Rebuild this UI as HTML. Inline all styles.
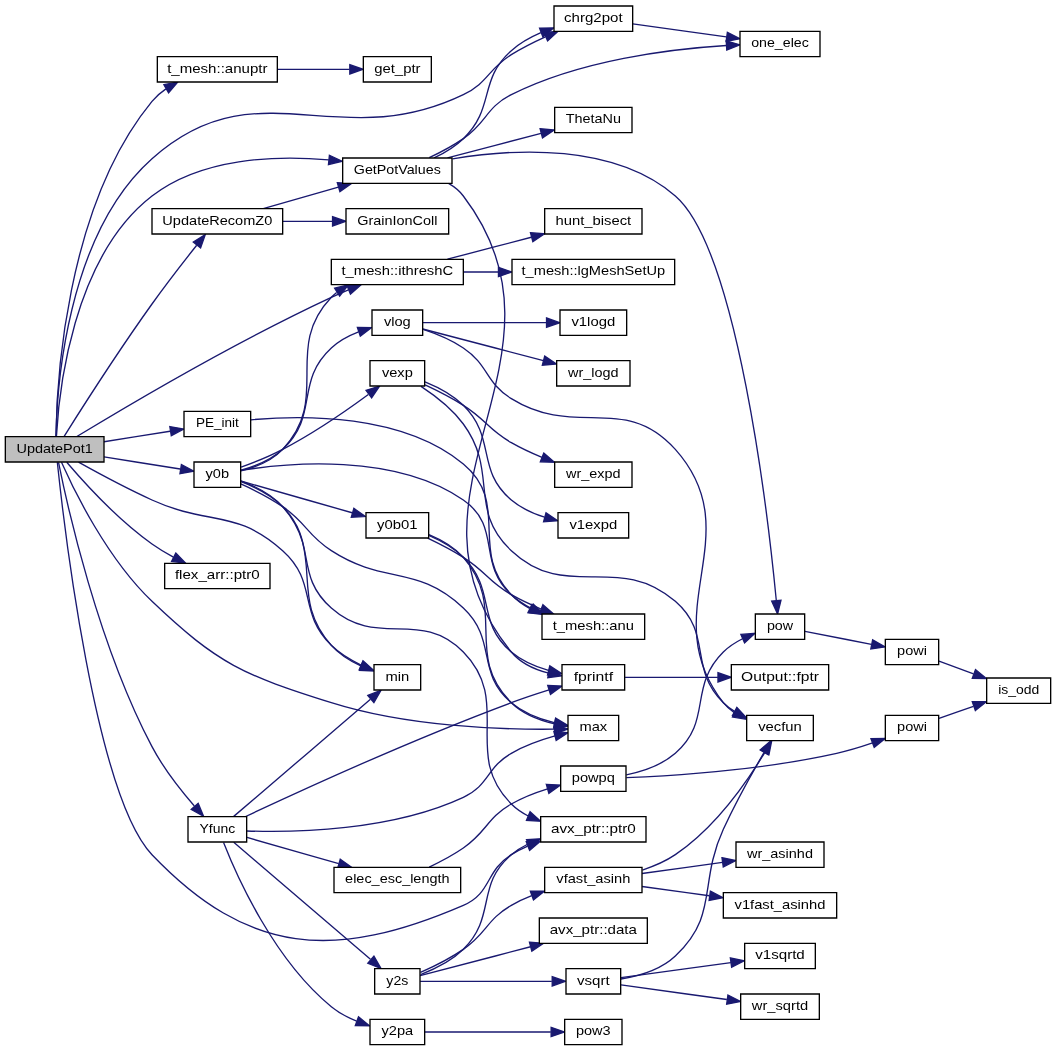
<!DOCTYPE html>
<html><head><meta charset="utf-8"><title>UpdatePot1</title>
<style>html,body{margin:0;padding:0;background:#fff;overflow:hidden}svg{display:block}text{font-family:"Liberation Sans",sans-serif;font-size:10px;text-rendering:auto}</style></head><body>
<svg width="1056" height="1051" viewBox="0 0 792 788.25">
<rect x="0" y="0" width="792" height="788.25" fill="#fff"/>
<g transform="translate(4 784)">
<g fill="none" stroke="#191970" stroke-width="1">
<path d="M314.56,-10C338.82,-10 380.48,-10 409.09,-10"/>
<path d="M599.7,-310.52C613.54,-307.79 633.2,-303.95 649.58,-300.76"/>
<path d="M331.59,-589.59C350.68,-594.59 374.22,-600.76 394.47,-606.07"/>
<path d="M343.69,-580C351.91,-580 361.08,-580 369.73,-580"/>
<path d="M204.12,-732C221.73,-732 241.72,-732 258.14,-732"/>
<path d="M461.67,-49.74C474.73,-51.87 491.45,-56.57 502.5,-67 535.34,-97.99 519.64,-120.98 538.5,-162 547.77,-182.17 560.16,-204.35 568.98,-219.52"/>
<path d="M461.77,-45.28C482.41,-42.44 515.29,-37.91 541.15,-34.35"/>
<path d="M461.77,-50.72C483.22,-53.68 517.91,-58.45 544.18,-62.07"/>
<path d="M470.59,-766.06C490.9,-763.27 518.42,-759.48 540.78,-756.4"/>
<path d="M335.41,-664.91C381.54,-672.52 456.54,-676.77 502.5,-637 549.2,-596.59 572,-397.73 578.21,-333.82"/>
<path d="M321.54,-665.56C329.25,-669.23 337.27,-674.01 343.5,-680 367.59,-703.15 354.48,-723.85 379.5,-746 385.88,-751.64 393.74,-756.04 401.67,-759.45"/>
<path d="M317.96,-665.73C326.29,-669.67 335.6,-674.58 343.5,-680 361.41,-692.27 360.1,-703.27 379.5,-713 431.33,-738.98 498.82,-747.27 540.77,-749.87"/>
<path d="M331.59,-665.59C353.03,-671.21 380.07,-678.29 401.78,-683.98"/>
<path d="M332.41,-646.43C336.67,-643.98 340.54,-640.88 343.5,-637 436.14,-515.43 282.72,-413.3 379.5,-295 386.42,-286.54 397.07,-281.79 407.52,-279.13"/>
<path d="M184.14,-469.14C222.57,-472.72 297.71,-473.84 343.5,-436 379.27,-406.44 347.11,-371.23 379.5,-338 383.44,-333.95 388.15,-330.57 393.18,-327.75"/>
<path d="M477.81,-131.49C486.35,-134.26 495.12,-138 502.5,-143 532.3,-163.19 556.55,-198.16 569.57,-219.57"/>
<path d="M477.54,-128.89C495.95,-131.43 518.56,-134.54 537.85,-137.2"/>
<path d="M477.54,-119.11C492.88,-116.99 511.14,-114.48 527.96,-112.17"/>
<path d="M176.68,-431.16C211.18,-436.73 291.79,-444.57 343.5,-409 372.65,-388.95 353.36,-361.85 379.5,-338 383.89,-334 389.02,-330.63 394.41,-327.8"/>
<path d="M176.74,-430.84C187.05,-433.42 199.81,-438.21 208,-447 244.71,-485.88 207.72,-522.18 244.5,-561 245.73,-562.32 247.06,-563.54 248.48,-564.69"/>
<path d="M176.7,-423.24C187,-419.52 199.77,-413.38 208,-404 240.71,-367.23 211.71,-336.7 244.5,-300 250.42,-293.28 258.65,-288.24 266.65,-284.56"/>
<path d="M176.51,-423.26C197.21,-417.33 233.53,-407.01 260.09,-399.44"/>
<path d="M176.8,-431.36C186.87,-434.11 199.37,-438.91 208,-447 235.66,-472.55 216.8,-497.5 244.5,-523 250.23,-528.34 257.63,-532.25 264.92,-535.07"/>
<path d="M176.83,-433.65C186.23,-437.05 198.01,-441.73 208,-447 231.17,-459.05 255.61,-475.89 272.25,-488.14"/>
<path d="M176.63,-421.07C186.18,-416.76 198.18,-410.76 208,-404 226.13,-391.69 226.05,-382.82 244.5,-371 284.73,-344.88 308.59,-360.9 343.5,-328 369.25,-303.74 352.51,-279.87 379.5,-257 388.54,-249.34 400.67,-244.76 411.69,-242.03"/>
<path d="M176.82,-422.75C186.9,-418.89 199.4,-412.79 208,-404 234.51,-377.29 216.14,-352.79 244.5,-328 279.21,-297.24 310.97,-328.05 343.5,-295 380.77,-257.13 341.9,-218.54 379.5,-181 383.16,-177.35 387.5,-174.4 392.17,-172.02"/>
<path d="M317.96,-133.73C326.29,-137.67 335.6,-142.58 343.5,-148 361.41,-160.27 360.7,-170.16 379.5,-181 387.83,-185.81 397.53,-189.55 406.68,-192.39"/>
<path d="M316.75,-380.39C325.3,-376.32 335.06,-371.29 343.5,-366 360.67,-355.23 361.9,-348.06 379.5,-338 386.47,-334.02 394.22,-330.4 401.8,-327.25"/>
<path d="M317.66,-382.37C326.53,-378.53 336.29,-373.14 343.5,-366 368.64,-341.1 352.51,-317.87 379.5,-295 387.35,-288.34 397.54,-284.02 407.31,-281.2"/>
<path d="M317.72,-383.1C326.82,-379.33 336.72,-373.8 343.5,-366 376.95,-327.48 343.16,-292.81 379.5,-257 388.15,-248.48 400.57,-243.78 411.91,-241.18"/>
<path d="M163.67,-152.16C173.21,-127.87 201.05,-64.48 244.5,-29 250.03,-24.43 256.78,-20.87 263.48,-18.13"/>
<path d="M171.3,-171.72C193.98,-191.24 245.8,-235.39 273.84,-259.51"/>
<path d="M181.29,-155.89C199.64,-150.63 226.97,-142.87 250.05,-136.32"/>
<path d="M171.3,-152.28C193.98,-132.76 245.8,-88.61 273.84,-64.49"/>
<path d="M180.24,-171.63C218.68,-189.67 304.94,-229.21 379.5,-257 388.59,-260.39 398.59,-263.7 407.8,-266.58"/>
<path d="M181.16,-160.76C216.59,-159.55 289.34,-160.75 343.5,-186 363.17,-195.17 360.7,-208.16 379.5,-219 389.55,-224.79 401.57,-229.04 412.24,-232.02"/>
<path d="M313.07,-542C336.2,-542 376.73,-542 405.77,-542"/>
<path d="M313.43,-536.9C322.91,-533.77 334.35,-529.16 343.5,-523 362.79,-510 359.74,-497.28 379.5,-485 428.1,-454.8 464.38,-489.67 502.5,-447 559.76,-382.91 485.51,-324.67 538.5,-257 540.84,-254.02 543.75,-251.49 546.94,-249.34"/>
<path d="M313.07,-537.26C335.62,-531.36 374.71,-521.11 403.57,-513.55"/>
<path d="M311.07,-48C334.84,-48 379.8,-48 409.84,-48"/>
<path d="M311.36,-54.7C321.08,-59.02 333.43,-65.1 343.5,-72 361.41,-84.27 360.7,-94.16 379.5,-105 384.27,-107.75 389.48,-110.15 394.79,-112.23"/>
<path d="M311.07,-52.21C330.93,-57.41 365.55,-66.49 393.93,-73.93"/>
<path d="M311.45,-53.12C321.69,-56.98 334.56,-63.14 343.5,-72 368.64,-96.9 352.51,-120.13 379.5,-143 383.24,-146.17 387.51,-148.81 392.01,-151.01"/>
<path d="M465.75,-202.86C477.92,-205.37 492.29,-210.11 502.5,-219 530.69,-243.54 511.9,-268.74 538.5,-295 542.59,-299.04 547.69,-302.31 552.9,-304.93"/>
<path d="M465.77,-200.76C500.71,-202.27 567.83,-206.64 623.5,-219 632.41,-220.95 641.88,-223.85 650.43,-226.79"/>
<path d="M311.76,-494.2C322.12,-487.42 335.01,-477.55 343.5,-466 370.25,-429.63 346.59,-401.91 379.5,-371 421.2,-331.83 459.26,-370.47 502.5,-333 530.75,-308.52 511.9,-283.26 538.5,-257 541,-254.53 543.88,-252.35 546.93,-250.43"/>
<path d="M314.74,-497.59C324.33,-493.7 335.49,-487.93 343.5,-480 368.64,-455.1 352.51,-431.87 379.5,-409 386.58,-403 395.55,-398.89 404.41,-396.08"/>
<path d="M314.84,-495.29C323.82,-491.07 334.43,-485.69 343.5,-480 360.67,-469.23 361.9,-462.06 379.5,-452 386.68,-447.89 394.71,-444.17 402.5,-440.95"/>
<path d="M53.65,-456.6C87.58,-477.2 170.76,-526.57 244.5,-561 248.62,-562.93 252.99,-564.84 257.35,-566.66"/>
<path d="M37.98,-456.54C38.38,-493.39 44.47,-628.31 110,-708 112.94,-711.58 116.55,-714.67 120.46,-717.33"/>
<path d="M38.01,-456.63C38.58,-490.84 45.4,-607.48 110,-665 188.96,-735.31 248.25,-667.11 343.5,-713 362.26,-722.04 361.82,-731.99 379.5,-743 387.44,-747.95 396.45,-752.48 405.04,-756.36"/>
<path d="M38.35,-456.95C40.06,-489.12 50.19,-590.95 110,-637 147.27,-665.69 202.25,-667.61 242.59,-664.09"/>
<path d="M74,-452.7C89.71,-455.19 108.04,-458.09 123.57,-460.55"/>
<path d="M54.89,-437.37C69.31,-429.33 90.71,-417.8 110,-409 152.51,-389.62 173.37,-402.35 208,-371 234.59,-347.26 219.01,-324.9 244.5,-300 250.76,-293.8 258.95,-288.92 266.81,-285.22"/>
<path d="M74,-441.3C92.35,-438.39 114.29,-434.92 131.14,-432.25"/>
<path d="M39.9,-437.18C46.35,-405.1 69.37,-301 110,-224 118.59,-207.72 131.49,-191.35 141.76,-179.52"/>
<path d="M44.12,-456.79C56.25,-476.07 84.39,-520.22 110,-556 120.84,-571.14 133.8,-587.81 143.52,-600.04"/>
<path d="M42.11,-437.34C51.48,-416.2 76.29,-365.15 110,-333 159.55,-285.75 178.72,-277.65 244.5,-257 301.76,-238.88 372.76,-236.7 411.5,-237.1"/>
<path d="M46.06,-437.29C58.59,-422.63 84.02,-394.59 110,-376 114.95,-372.46 120.5,-369.16 126.02,-366.21"/>
<path d="M38.99,-437.28C43.95,-390.3 67.62,-187.28 110,-143 182.55,-67.2 247.11,-63.54 343.5,-105 364.87,-114.19 359.77,-130.67 379.5,-143 383.33,-145.39 387.49,-147.51 391.77,-149.37"/>
<path d="M193.44,-627.59C210.41,-632.45 231.48,-638.41 249.81,-643.61"/>
<path d="M208.21,-618C220.28,-618 233.21,-618 245.24,-618"/>
<path d="M464.79,-276C483.66,-276 511.07,-276 534.42,-276"/>
<path d="M700.28,-288.2C708.9,-285.02 717.52,-281.84 726.14,-278.66"/>
<path d="M700.28,-245.2C708.88,-248.23 717.48,-251.25 726.08,-254.28"/>
</g><g fill="#191970" stroke="#191970" stroke-width="1">
<polygon points="409.35,-13.5 419.35,-10 409.35,-6.5 409.35,-13.5"/>
<polygon points="650.49,-304.15 659.76,-298.79 649.12,-297.29 650.49,-304.15"/>
<polygon points="393.86,-609.53 404.42,-608.68 395.64,-602.76 393.86,-609.53"/>
<polygon points="369.84,-583.5 379.84,-580 369.84,-576.5 369.84,-583.5"/>
<polygon points="258.37,-735.5 268.37,-732 258.37,-728.5 258.37,-735.5"/>
<polygon points="566.1,-221.54 574.19,-228.38 572.13,-217.99 566.1,-221.54"/>
<polygon points="541.96,-37.77 551.39,-32.94 541,-30.84 541.96,-37.77"/>
<polygon points="543.76,-65.54 554.15,-63.44 544.72,-58.61 543.76,-65.54"/>
<polygon points="541.54,-759.83 550.97,-755 540.58,-752.89 541.54,-759.83"/>
<polygon points="581.73,-333.81 579.18,-323.52 574.76,-333.15 581.73,-333.81"/>
<polygon points="400.68,-762.81 411.27,-763.11 403.17,-756.27 400.68,-762.81"/>
<polygon points="540.69,-753.37 550.86,-750.42 541.07,-746.39 540.69,-753.37"/>
<polygon points="401.09,-687.42 411.66,-686.57 402.87,-680.65 401.09,-687.42"/>
<polygon points="408.22,-282.56 417.35,-277.18 406.85,-275.7 408.22,-282.56"/>
<polygon points="395,-330.76 402.48,-323.25 391.95,-324.46 395,-330.76"/>
<polygon points="566.66,-221.52 574.75,-228.35 572.69,-217.96 566.66,-221.52"/>
<polygon points="537.5,-140.68 547.88,-138.58 538.46,-133.75 537.5,-140.68"/>
<polygon points="528.78,-115.59 538.21,-110.75 527.83,-108.65 528.78,-115.59"/>
<polygon points="396.02,-330.91 403.63,-323.54 393.09,-324.56 396.02,-330.91"/>
<polygon points="246.97,-567.88 257.27,-570.36 250.76,-562 246.97,-567.88"/>
<polygon points="268.17,-287.72 276.12,-280.72 265.54,-281.23 268.17,-287.72"/>
<polygon points="261.39,-402.71 270.04,-396.58 259.46,-395.98 261.39,-402.71"/>
<polygon points="264.03,-538.47 274.63,-538.29 266.24,-531.82 264.03,-538.47"/>
<polygon points="270.55,-491.23 280.65,-494.41 274.73,-485.62 270.55,-491.23"/>
<polygon points="412.71,-245.4 421.79,-239.94 411.29,-238.54 412.71,-245.4"/>
<polygon points="393.58,-175.22 401.43,-168.09 390.85,-168.77 393.58,-175.22"/>
<polygon points="405.74,-195.76 416.32,-195.12 407.65,-189.02 405.74,-195.76"/>
<polygon points="403.21,-330.45 411.22,-323.51 400.63,-323.94 403.21,-330.45"/>
<polygon points="408.34,-284.55 417.23,-278.79 406.68,-277.75 408.34,-284.55"/>
<polygon points="412.68,-244.6 421.88,-239.34 411.41,-237.71 412.68,-244.6"/>
<polygon points="264.86,-21.36 273.09,-14.69 262.49,-14.77 264.86,-21.36"/>
<polygon points="271.87,-262.44 281.73,-266.31 276.43,-257.13 271.87,-262.44"/>
<polygon points="251.22,-139.62 259.86,-133.5 249.29,-132.9 251.22,-139.62"/>
<polygon points="276.43,-66.87 281.73,-57.69 271.87,-61.56 276.43,-66.87"/>
<polygon points="406.81,-269.93 417.4,-269.52 408.86,-263.24 406.81,-269.93"/>
<polygon points="411.39,-235.42 421.95,-234.51 413.13,-228.64 411.39,-235.42"/>
<polygon points="405.9,-545.5 415.9,-542 405.9,-538.5 405.9,-545.5"/>
<polygon points="548.7,-252.36 555.83,-244.52 545.37,-246.21 548.7,-252.36"/>
<polygon points="404.53,-516.91 413.31,-510.99 402.75,-510.14 404.53,-516.91"/>
<polygon points="410.16,-51.5 420.16,-48 410.16,-44.5 410.16,-51.5"/>
<polygon points="393.76,-115.58 404.35,-115.65 396.11,-108.99 393.76,-115.58"/>
<polygon points="393.11,-77.33 403.67,-76.48 394.88,-70.56 393.11,-77.33"/>
<polygon points="390.91,-154.34 401.48,-154.94 393.59,-147.88 390.91,-154.34"/>
<polygon points="551.64,-308.2 562.21,-308.96 554.43,-301.77 551.64,-308.2"/>
<polygon points="649.22,-230.08 659.97,-230.22 651.66,-223.51 649.22,-230.08"/>
<polygon points="548.65,-253.48 555.82,-245.67 545.35,-247.3 548.65,-253.48"/>
<polygon points="405.51,-399.41 414.25,-393.42 403.68,-392.65 405.51,-399.41"/>
<polygon points="403.81,-444.2 411.83,-437.28 401.24,-437.69 403.81,-444.2"/>
<polygon points="256.22,-569.98 266.81,-570.47 258.84,-563.48 256.22,-569.98"/>
<polygon points="118.94,-720.5 129.34,-722.49 122.45,-714.44 118.94,-720.5"/>
<polygon points="403.92,-759.69 414.49,-760.45 406.7,-753.26 403.92,-759.69"/>
<polygon points="243.06,-667.56 252.67,-663.06 242.34,-660.6 243.06,-667.56"/>
<polygon points="123.37,-464.06 133.8,-462.17 124.47,-457.15 123.37,-464.06"/>
<polygon points="268.24,-288.42 276.09,-281.3 265.52,-281.97 268.24,-288.42"/>
<polygon points="132.06,-435.65 141.39,-430.63 130.97,-428.74 132.06,-435.65"/>
<polygon points="144.62,-181.56 148.67,-171.77 139.4,-176.9 144.62,-181.56"/>
<polygon points="140.97,-602.46 149.95,-608.08 146.44,-598.08 140.97,-602.46"/>
<polygon points="411.92,-240.61 421.98,-237.29 412.04,-233.61 411.92,-240.61"/>
<polygon points="127.82,-369.23 135.18,-361.6 124.67,-362.97 127.82,-369.23"/>
<polygon points="390.68,-152.7 401.27,-153.06 393.21,-146.18 390.68,-152.7"/>
<polygon points="249,-647.02 259.58,-646.41 250.93,-640.29 249,-647.02"/>
<polygon points="245.42,-621.5 255.42,-618 245.42,-614.5 245.42,-621.5"/>
<polygon points="534.48,-279.5 544.48,-276 534.48,-272.5 534.48,-279.5"/>
<polygon points="725.21,-275.28 735.8,-275.1 727.63,-281.84 725.21,-275.28"/>
<polygon points="727.53,-251.08 735.8,-257.7 725.21,-257.68 727.53,-251.08"/>
</g><g stroke="#000" stroke-width="1">
<polygon fill="#fff" points="419.5,-0.5 419.5,-19.5 462.5,-19.5 462.5,-0.5 419.5,-0.5"/>
<polygon fill="#fff" points="273.5,-0.5 273.5,-19.5 314.5,-19.5 314.5,-0.5 273.5,-0.5"/>
<polygon fill="#fff" points="402.5,-304.5 402.5,-323.5 479.5,-323.5 479.5,-304.5 402.5,-304.5"/>
<polygon fill="#fff" points="562.5,-304.5 562.5,-323.5 599.5,-323.5 599.5,-304.5 562.5,-304.5"/>
<polygon fill="#fff" points="660,-285.5 660,-304.5 700,-304.5 700,-285.5 660,-285.5"/>
<polygon fill="#fff" points="244.5,-570.5 244.5,-589.5 343.5,-589.5 343.5,-570.5 244.5,-570.5"/>
<polygon fill="#fff" points="404.5,-608.5 404.5,-627.5 477.5,-627.5 477.5,-608.5 404.5,-608.5"/>
<polygon fill="#fff" points="380,-570.5 380,-589.5 502,-589.5 502,-570.5 380,-570.5"/>
<polygon fill="#fff" points="114,-722.5 114,-741.5 204,-741.5 204,-722.5 114,-722.5"/>
<polygon fill="#fff" points="268.5,-722.5 268.5,-741.5 319.5,-741.5 319.5,-722.5 268.5,-722.5"/>
<polygon fill="#fff" points="420.5,-38.5 420.5,-57.5 461.5,-57.5 461.5,-38.5 420.5,-38.5"/>
<polygon fill="#fff" points="556,-228.5 556,-247.5 606,-247.5 606,-228.5 556,-228.5"/>
<polygon fill="#fff" points="551.5,-19.5 551.5,-38.5 610.5,-38.5 610.5,-19.5 551.5,-19.5"/>
<polygon fill="#fff" points="554.5,-57.5 554.5,-76.5 607.5,-76.5 607.5,-57.5 554.5,-57.5"/>
<polygon fill="#fff" points="411.5,-760.5 411.5,-779.5 470.5,-779.5 470.5,-760.5 411.5,-760.5"/>
<polygon fill="#fff" points="551,-741.5 551,-760.5 611,-760.5 611,-741.5 551,-741.5"/>
<polygon fill="#fff" points="416,-532.5 416,-551.5 466,-551.5 466,-532.5 416,-532.5"/>
<polygon fill="#fff" points="736,-256.5 736,-275.5 784,-275.5 784,-256.5 736,-256.5"/>
<polygon fill="#fff" points="253,-646.5 253,-665.5 335,-665.5 335,-646.5 253,-646.5"/>
<polygon fill="#fff" points="412,-684.5 412,-703.5 470,-703.5 470,-684.5 412,-684.5"/>
<polygon fill="#fff" points="417.5,-266.5 417.5,-285.5 464.5,-285.5 464.5,-266.5 417.5,-266.5"/>
<polygon fill="#fff" points="134,-456.5 134,-475.5 184,-475.5 184,-456.5 134,-456.5"/>
<polygon fill="#fff" points="404.5,-114.5 404.5,-133.5 477.5,-133.5 477.5,-114.5 404.5,-114.5"/>
<polygon fill="#fff" points="548,-133.5 548,-152.5 614,-152.5 614,-133.5 548,-133.5"/>
<polygon fill="#fff" points="538.5,-95.5 538.5,-114.5 623.5,-114.5 623.5,-95.5 538.5,-95.5"/>
<polygon fill="#fff" points="276.5,-266.5 276.5,-285.5 311.5,-285.5 311.5,-266.5 276.5,-266.5"/>
<polygon fill="#fff" points="141.5,-418.5 141.5,-437.5 176.5,-437.5 176.5,-418.5 141.5,-418.5"/>
<polygon fill="#fff" points="270.5,-380.5 270.5,-399.5 317.5,-399.5 317.5,-380.5 270.5,-380.5"/>
<polygon fill="#fff" points="275,-532.5 275,-551.5 313,-551.5 313,-532.5 275,-532.5"/>
<polygon fill="#fff" points="273.5,-494.5 273.5,-513.5 314.5,-513.5 314.5,-494.5 273.5,-494.5"/>
<polygon fill="#fff" points="422,-228.5 422,-247.5 460,-247.5 460,-228.5 422,-228.5"/>
<polygon fill="#fff" points="401.5,-152.5 401.5,-171.5 480.5,-171.5 480.5,-152.5 401.5,-152.5"/>
<polygon fill="#fff" points="246.5,-114.5 246.5,-133.5 341.5,-133.5 341.5,-114.5 246.5,-114.5"/>
<polygon fill="#fff" points="416.5,-190.5 416.5,-209.5 465.5,-209.5 465.5,-190.5 416.5,-190.5"/>
<polygon fill="#fff" points="414.5,-380.5 414.5,-399.5 467.5,-399.5 467.5,-380.5 414.5,-380.5"/>
<polygon fill="#fff" points="137,-152.5 137,-171.5 181,-171.5 181,-152.5 137,-152.5"/>
<polygon fill="#fff" points="277,-38.5 277,-57.5 311,-57.5 311,-38.5 277,-38.5"/>
<polygon fill="#fff" points="413.5,-494.5 413.5,-513.5 468.5,-513.5 468.5,-494.5 413.5,-494.5"/>
<polygon fill="#fff" points="400.5,-76.5 400.5,-95.5 481.5,-95.5 481.5,-76.5 400.5,-76.5"/>
<polygon fill="#fff" points="660,-228.5 660,-247.5 700,-247.5 700,-228.5 660,-228.5"/>
<polygon fill="#fff" points="412,-418.5 412,-437.5 470,-437.5 470,-418.5 412,-418.5"/>
<polygon fill="#bfbfbf" points="0,-437.5 0,-456.5 74,-456.5 74,-437.5 0,-437.5"/>
<polygon fill="#fff" points="110,-608.5 110,-627.5 208,-627.5 208,-608.5 110,-608.5"/>
<polygon fill="#fff" points="119.5,-342.5 119.5,-361.5 198.5,-361.5 198.5,-342.5 119.5,-342.5"/>
<polygon fill="#fff" points="255.5,-608.5 255.5,-627.5 332.5,-627.5 332.5,-608.5 255.5,-608.5"/>
<polygon fill="#fff" points="544.5,-266.5 544.5,-285.5 617.5,-285.5 617.5,-266.5 544.5,-266.5"/>
</g><g text-anchor="middle" fill="#000" style="will-change:transform">
<text x="441" y="-7.5" textLength="26.01" lengthAdjust="spacingAndGlyphs">pow3</text>
<text x="294" y="-7.5" textLength="23.76" lengthAdjust="spacingAndGlyphs">y2pa</text>
<text x="441" y="-311.5" textLength="60.9" lengthAdjust="spacingAndGlyphs">t_mesh::anu</text>
<text x="581" y="-311.5" textLength="19.64" lengthAdjust="spacingAndGlyphs">pow</text>
<text x="680" y="-292.5" textLength="22.42" lengthAdjust="spacingAndGlyphs">powi</text>
<text x="294" y="-577.5" textLength="83.71" lengthAdjust="spacingAndGlyphs">t_mesh::ithreshC</text>
<text x="441" y="-615.5" textLength="56.84" lengthAdjust="spacingAndGlyphs">hunt_bisect</text>
<text x="441" y="-577.5" textLength="107.64" lengthAdjust="spacingAndGlyphs">t_mesh::lgMeshSetUp</text>
<text x="159" y="-729.5" textLength="75.28" lengthAdjust="spacingAndGlyphs">t_mesh::anuptr</text>
<text x="294" y="-729.5" textLength="34.8" lengthAdjust="spacingAndGlyphs">get_ptr</text>
<text x="441" y="-45.5" textLength="24.51" lengthAdjust="spacingAndGlyphs">vsqrt</text>
<text x="581" y="-235.5" textLength="32.76" lengthAdjust="spacingAndGlyphs">vecfun</text>
<text x="581" y="-26.5" textLength="42.23" lengthAdjust="spacingAndGlyphs">wr_sqrtd</text>
<text x="581" y="-64.5" textLength="37.22" lengthAdjust="spacingAndGlyphs">v1sqrtd</text>
<text x="441" y="-767.5" textLength="43.87" lengthAdjust="spacingAndGlyphs">chrg2pot</text>
<text x="581" y="-748.5" textLength="43.19" lengthAdjust="spacingAndGlyphs">one_elec</text>
<text x="441" y="-539.5" textLength="32.87" lengthAdjust="spacingAndGlyphs">v1logd</text>
<text x="760" y="-263.5" textLength="30.8" lengthAdjust="spacingAndGlyphs">is_odd</text>
<text x="294" y="-653.5" textLength="65.21" lengthAdjust="spacingAndGlyphs">GetPotValues</text>
<text x="441" y="-691.5" textLength="41.47" lengthAdjust="spacingAndGlyphs">ThetaNu</text>
<text x="441" y="-273.5" textLength="29.54" lengthAdjust="spacingAndGlyphs">fprintf</text>
<text x="159" y="-463.5" textLength="32.16" lengthAdjust="spacingAndGlyphs">PE_init</text>
<text x="441" y="-121.5" textLength="55.49" lengthAdjust="spacingAndGlyphs">vfast_asinh</text>
<text x="581" y="-140.5" textLength="49.43" lengthAdjust="spacingAndGlyphs">wr_asinhd</text>
<text x="581" y="-102.5" textLength="68.2" lengthAdjust="spacingAndGlyphs">v1fast_asinhd</text>
<text x="294" y="-273.5" textLength="17.86" lengthAdjust="spacingAndGlyphs">min</text>
<text x="159" y="-425.5" textLength="17.63" lengthAdjust="spacingAndGlyphs">y0b</text>
<text x="294" y="-387.5" textLength="30.35" lengthAdjust="spacingAndGlyphs">y0b01</text>
<text x="294" y="-539.5" textLength="20.16" lengthAdjust="spacingAndGlyphs">vlog</text>
<text x="294" y="-501.5" textLength="23.16" lengthAdjust="spacingAndGlyphs">vexp</text>
<text x="441" y="-235.5" textLength="20.79" lengthAdjust="spacingAndGlyphs">max</text>
<text x="441" y="-159.5" textLength="63.65" lengthAdjust="spacingAndGlyphs">avx_ptr::ptr0</text>
<text x="294" y="-121.5" textLength="78.32" lengthAdjust="spacingAndGlyphs">elec_esc_length</text>
<text x="441" y="-197.5" textLength="32.34" lengthAdjust="spacingAndGlyphs">powpq</text>
<text x="441" y="-387.5" textLength="35.87" lengthAdjust="spacingAndGlyphs">v1expd</text>
<text x="159" y="-159.5" textLength="26.8" lengthAdjust="spacingAndGlyphs">Yfunc</text>
<text x="294" y="-45.5" textLength="16.49" lengthAdjust="spacingAndGlyphs">y2s</text>
<text x="441" y="-501.5" textLength="37.88" lengthAdjust="spacingAndGlyphs">wr_logd</text>
<text x="441" y="-83.5" textLength="65.43" lengthAdjust="spacingAndGlyphs">avx_ptr::data</text>
<text x="680" y="-235.5" textLength="22.42" lengthAdjust="spacingAndGlyphs">powi</text>
<text x="441" y="-425.5" textLength="40.88" lengthAdjust="spacingAndGlyphs">wr_expd</text>
<text x="37" y="-444.5" textLength="57.29" lengthAdjust="spacingAndGlyphs">UpdatePot1</text>
<text x="159" y="-615.5" textLength="82.44" lengthAdjust="spacingAndGlyphs">UpdateRecomZ0</text>
<text x="159" y="-349.5" textLength="63.67" lengthAdjust="spacingAndGlyphs">flex_arr::ptr0</text>
<text x="294" y="-615.5" textLength="60.17" lengthAdjust="spacingAndGlyphs">GrainIonColl</text>
<text x="581" y="-273.5" textLength="58.38" lengthAdjust="spacingAndGlyphs">Output::fptr</text>
</g></g></svg></body></html>
